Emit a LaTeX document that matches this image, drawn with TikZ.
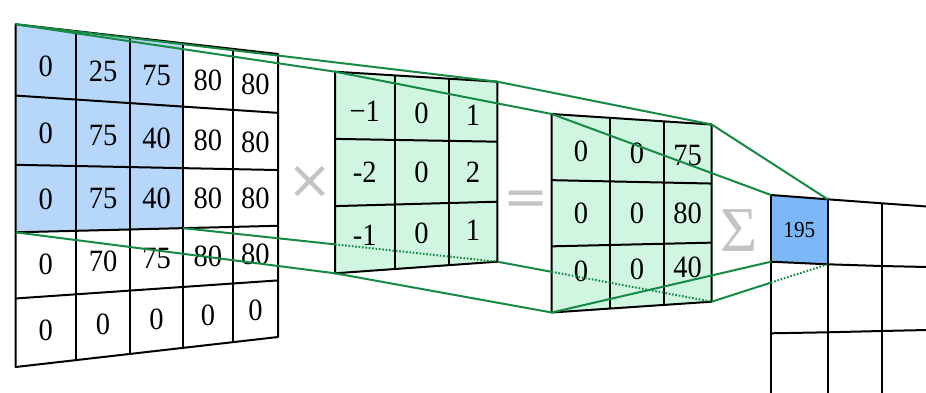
\documentclass[tikz,border=0pt]{standalone}
\usepackage{fontspec}
\setmainfont{Liberation Serif}
\newfontfamily\symfont{DejaVu Sans}
\usetikzlibrary{calc}
\definecolor{fieldblue}{RGB}{182,214,250}
\definecolor{outblue}{RGB}{125,183,248}
\definecolor{kgreen}{RGB}{208,246,226}
\definecolor{lgreen}{RGB}{22,138,68}
\definecolor{symgray}{RGB}{196,196,196}
\newcommand{\gp}[4]{%
  \coordinate (gpT) at ($(#1TL)!#2!(#1TR)$);
  \coordinate (gpB) at ($(#1BL)!#2!(#1BR)$);
  \coordinate (#4) at ($(gpT)!#3!(gpB)$);}
\tikzset{
  gridline/.style={black, line width=2pt, line join=round},
  proj/.style={lgreen, line width=2pt},
  projhid/.style={lgreen, line width=2pt, dash pattern=on 1.6pt off 1.8pt},
  num/.style={font=\fontsize{31}{31}\selectfont, inner sep=0pt, xscale=0.92},
  smallnum/.style={font=\fontsize{23}{23}\selectfont, inner sep=0pt, xscale=0.92},
  opsym/.style={text=symgray, inner sep=0pt}
}
\begin{document}
\begin{tikzpicture}[x=1pt,y=-1pt]
\useasboundingbox (0,0) rectangle (926,393);
% ---------- corners ----------
\coordinate (inTL) at (15.7,24.3);  \coordinate (inTR) at (278,54);
\coordinate (inBL) at (15.7,367);   \coordinate (inBR) at (278,337);
\coordinate (kTL) at (335,71.7);    \coordinate (kTR) at (497.3,81.7);
\coordinate (kBL) at (335,273.3);   \coordinate (kBR) at (497.3,261.7);
\coordinate (pTL) at (551.7,114);   \coordinate (pTR) at (711.7,124.5);
\coordinate (pBL) at (551.7,312.5); \coordinate (pBR) at (711.7,301.7);
% ---------- input grid ----------
\foreach \u [count=\i from 0] in {0,.23,.436,.638,.828,1}{
  \foreach \v [count=\j from 0] in {0,.208,.41,.607,.8,1}{\gp{in}{\u}{\v}{in-\i-\j}}}
\fill[white] (in-0-0) -- (in-5-0) -- (in-5-5) -- (in-0-5) -- cycle;
\fill[fieldblue] (in-0-0) -- (in-3-0) -- (in-3-3) -- (in-0-3) -- cycle;
\foreach \i in {1,...,4} \draw[gridline] (in-\i-0) -- (in-\i-5);
\foreach \j in {1,...,4} \draw[gridline] (in-0-\j) -- (in-5-\j);
\draw[gridline] (in-0-0) -- (in-5-0) -- (in-5-5) -- (in-0-5) -- cycle;
\foreach \v/\r/\a/\b/\c/\d/\e in {.115/1/0/25/75/80/80,.315/2/0/75/40/80/80,.51/3/0/75/40/80/80,.7035/4/0/70/75/80/80,.9/5/0/0/0/0/0}{
  \foreach \u/\t [count=\i] in {.115/\a,.333/\b,.537/\c,.733/\d,.914/\e}{
    \gp{in}{\u}{\v}{inc-\i-\r}\node[num] (inn-\i-\r) at (inc-\i-\r) {\t};}}
% ---------- kernel ----------
\foreach \u [count=\i from 0] in {0,.367,.7,1}{
  \foreach \v [count=\j from 0] in {0,.3333,.6667,1}{\gp{k}{\u}{\v}{k-\i-\j}}}
\fill[kgreen] (k-0-0) -- (k-3-0) -- (k-3-3) -- (k-0-3) -- cycle;
\foreach \i in {1,2} \draw[gridline] (k-\i-0) -- (k-\i-3);
\foreach \j in {1,2} \draw[gridline] (k-0-\j) -- (k-3-\j);
\draw[gridline] (k-0-0) -- (k-3-0) -- (k-3-3) -- (k-0-3) -- cycle;
\foreach \v/\r/\a/\b/\c in {.19/1/{−1}/0/1,.5/2/{-2}/0/2,.82/3/{-1}/0/1}{
  \foreach \u/\t [count=\i] in {.183/\a,.533/\b,.85/\c}{
    \gp{k}{\u}{\v}{kc-\i-\r}\node[num] (kn-\i-\r) at (kc-\i-\r) {\t};}}
% ---------- product ----------
\foreach \u [count=\i from 0] in {0,.364,.7,1}{
  \foreach \v [count=\j from 0] in {0,.3333,.6667,1}{\gp{p}{\u}{\v}{p-\i-\j}}}
\fill[kgreen] (p-0-0) -- (p-3-0) -- (p-3-3) -- (p-0-3) -- cycle;
\foreach \i in {1,2} \draw[gridline] (p-\i-0) -- (p-\i-3);
\foreach \j in {1,2} \draw[gridline] (p-0-\j) -- (p-3-\j);
\draw[gridline] (p-0-0) -- (p-3-0) -- (p-3-3) -- (p-0-3) -- cycle;
\foreach \v/\r/\a/\b/\c in {.18/1/0/0/75,.5/2/0/0/80,.8/3/0/0/40}{
  \foreach \u/\t [count=\i] in {.183/\a,.533/\b,.85/\c}{
    \gp{p}{\u}{\v}{pc-\i-\r}\node[num] (pn-\i-\r) at (pc-\i-\r) {\t};}}
% ---------- output ----------
\coordinate (o-0-0) at (771,195);   \coordinate (o-1-0) at (827.7,199.3);
\coordinate (o-2-0) at (881.7,203.3); \coordinate (oE-0) at (927,206.5);
\coordinate (o-0-1) at (771,261.7); \coordinate (o-1-1) at (827.7,264.3);
\coordinate (o-2-1) at (881.7,266); \coordinate (oE-1) at (927,267);
\coordinate (o-0-2) at (771,333.3); \coordinate (o-1-2) at (827.7,332.3);
\coordinate (o-2-2) at (881.7,331); \coordinate (oE-2) at (927,330);
\coordinate (o-0-3) at (771,394);   \coordinate (o-1-3) at (827.7,394);
\coordinate (o-2-3) at (881.7,394);
\fill[outblue] (o-0-0) -- (o-1-0) -- (o-1-1) -- (o-0-1) -- cycle;
\foreach \j in {0,1,2} \draw[gridline] (o-0-\j) -- (o-1-\j) -- (o-2-\j) -- (oE-\j);
\foreach \i in {0,1,2} \draw[gridline] (o-\i-0) -- (o-\i-3);
\node[smallnum] (res) at ($(o-0-0)!.5!(o-1-1)$) {195};
% ---------- operators ----------
\node[opsym, font=\symfont\fontsize{54}{54}\selectfont] (times) at (310,182.5) {×};
\node[opsym, font=\symfont\fontsize{54}{54}\selectfont] (eq) at (526,203.5) {=};
\node[opsym, font=\fontsize{64}{64}\selectfont] (sum) at (739,231) {Σ};
% ---------- projection lines ----------
\draw[proj] (in-0-0) -- (k-0-0);
\draw[proj] (in-0-0) -- (k-3-0);
\draw[proj] (in-0-3) -- (k-0-3);
\coordinate (h1) at (intersection of in-3-3--k-3-3 and k-0-0--k-0-3);
\draw[proj] (in-3-3) -- (h1);
\draw[projhid] (h1) -- (k-3-3);
\draw[proj] (k-0-0) -- (p-0-0);
\draw[proj] (k-3-0) -- (p-3-0);
\draw[proj] (k-0-3) -- (p-0-3);
\coordinate (h2) at (intersection of k-3-3--p-3-3 and p-0-0--p-0-3);
\draw[proj] (k-3-3) -- (h2);
\draw[projhid] (h2) -- (p-3-3);
\draw[proj] (p-0-0) -- (o-0-0);
\draw[proj] (p-3-0) -- (o-1-0);
\draw[proj] (p-0-3) -- (o-0-1);
\coordinate (h3) at (intersection of p-3-3--o-1-1 and o-0-0--o-0-3);
\draw[proj] (p-3-3) -- (h3);
\draw[projhid] (h3) -- (o-1-1);
\end{tikzpicture}
\end{document}
